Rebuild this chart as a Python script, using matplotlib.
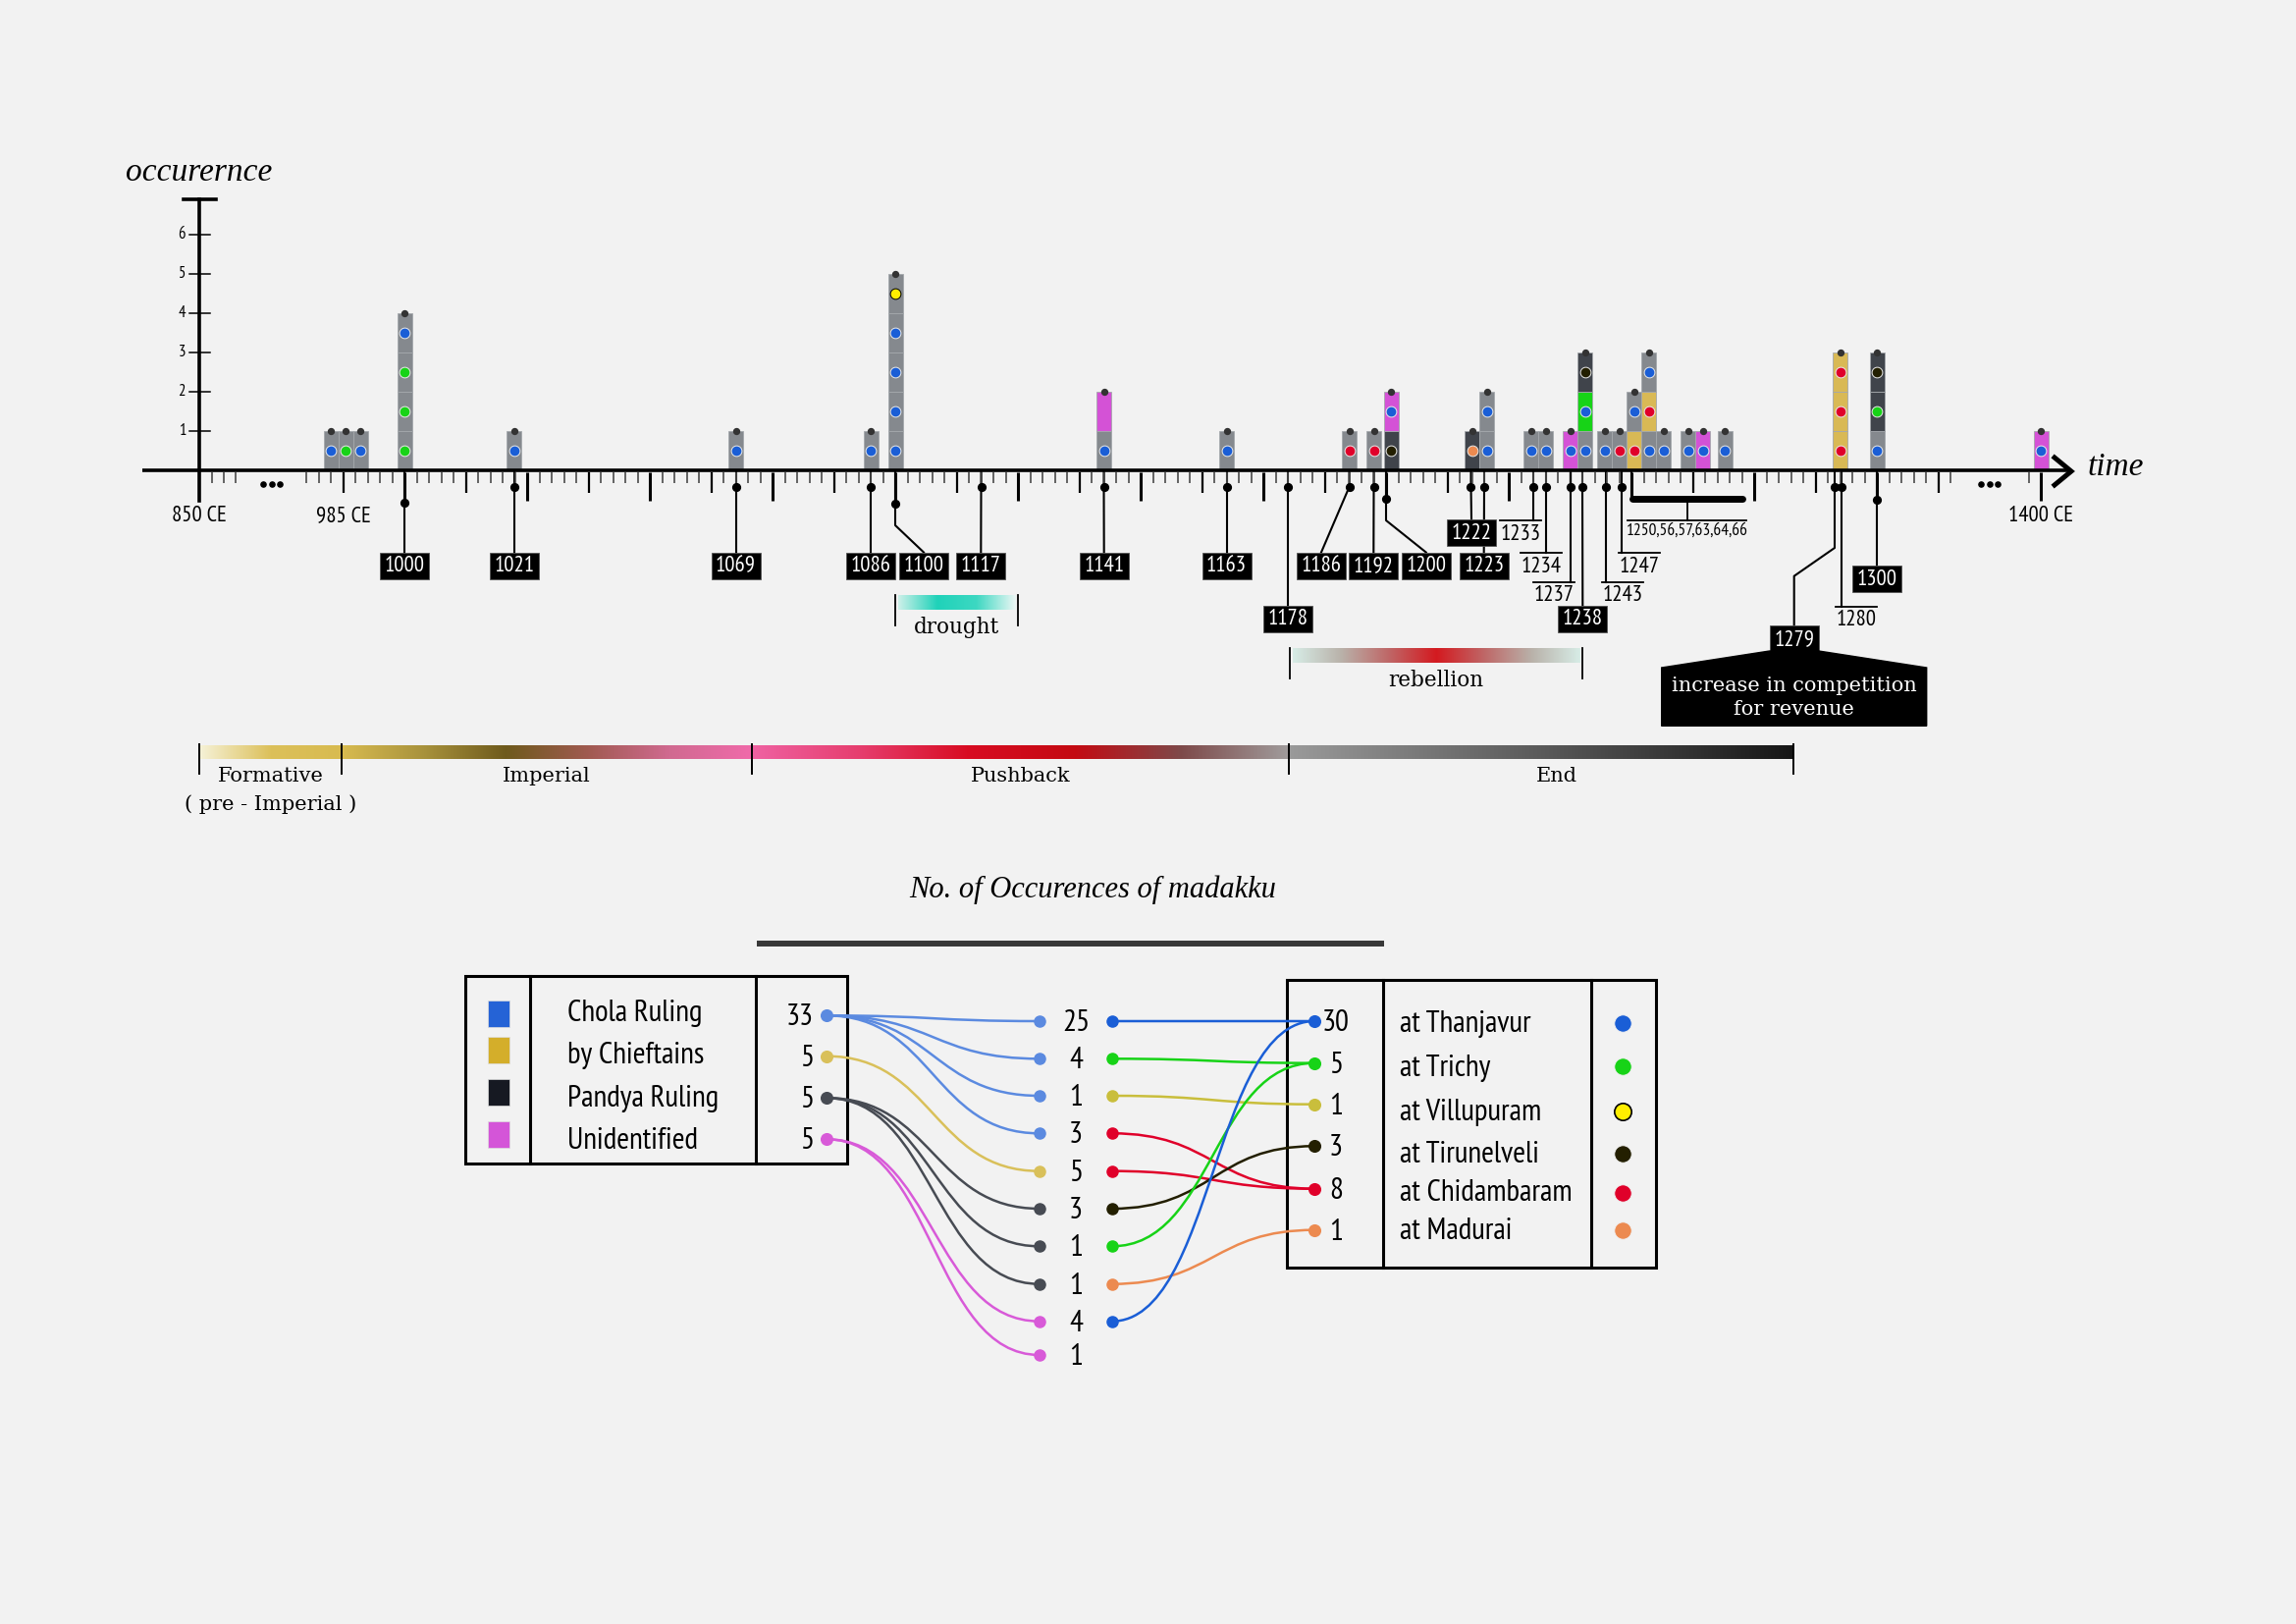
import numpy as np
import matplotlib as mpl
mpl.use('Agg')
import matplotlib.pyplot as plt
from matplotlib import font_manager as fm
from matplotlib.colors import LinearSegmentedColormap
from matplotlib.patches import Rectangle, Polygon, PathPatch
from matplotlib.path import Path
from matplotlib.textpath import TextPath
from matplotlib.transforms import blended_transform_factory

W, H = 2339, 1654
BG = '#f2f2f2'

#----------timeline data----------#
# where each bar sits on the time axis and its stack from the bottom:
# one ruler code and one place code (dot colour) per segment
bar_at = [985, 988, 991, 1000, 1022.4, 1067.5, 1095, 1100, 1142.5, 1167.5,
          1192.5, 1197.5, 1201, 1217.5, 1220.5, 1229.5, 1232.5, 1237.5, 1240.5,
          1244.5, 1247.5, 1250.5, 1253.5, 1256.5, 1261.5, 1264.5, 1269,
          1292.5, 1300, 1400]
bar_rulers = ['C', 'C', 'C', 'CCCC', 'C', 'C', 'C', 'CCCCC', 'CU', 'C',
              'C', 'C', 'PU', 'P', 'CC', 'C', 'C', 'U', 'CGP',
              'C', 'C', 'KC', 'CKC', 'C', 'C', 'U', 'C',
              'KKK', 'CPP', 'U']
bar_places = ['T', 'R', 'T', 'RRRT', 'T', 'T', 'T', 'TTTTV', 'T-', 'T',
              'D', 'D', 'NT', 'M', 'TT', 'T', 'T', 'T', 'TTN',
              'T', 'D', 'DT', 'TDT', 'T', 'T', 'T', 'T',
              'DDD', 'TRN', 'T']

callout_labels = ['1000', '1021', '1069', '1086', '1100', '1117', '1141', '1163', '1178',
                  '1186', '1192', '1200', '1222', '1223', '1233', '1234', '1237', '1238',
                  '1243', '1247', '1279', '1280', '1300']
callout_at = [1000, 1022.4, 1067.5, 1095, 1100, 1117.5, 1142.5, 1167.5, 1180,
              1192.5, 1197.5, 1200, 1217.3, 1220, 1230, 1232.5, 1237.5, 1240,
              1244.8, 1248, 1291.4, 1292.8, 1300]
group_label = '1250,56,57,63,64,66'
group_span = (1249.6, 1273.2)
note_text = 'increase in competition\nfor revenue'

event_names = ['drought', 'rebellion']
event_spans = [(1100, 1125), (1180.4, 1240)]

period_names = ['Formative', 'Imperial', 'Pushback', 'End']
period_sub = '( pre - Imperial )'
period_edges = [850, 987.2, 1070.8, 1180.2, 1283.1]

#----------network data----------#
title = 'No. of Occurences of madakku'
rulers = ['Chola Ruling', 'by Chieftains', 'Pandya Ruling', 'Unidentified']
ruler_totals = [33, 5, 5, 5]
places = ['at Thanjavur', 'at Trichy', 'at Villupuram', 'at Tirunelveli',
          'at Chidambaram', 'at Madurai']
place_totals = [30, 5, 1, 3, 8, 1]
link_ruler = [0, 0, 0, 0, 1, 2, 2, 2, 3, 3]
link_place = [0, 1, 2, 4, 4, 3, 1, 5, 0, None]
link_count = [25, 4, 1, 3, 5, 3, 1, 1, 4, 1]

#----------styles----------#
seg_color = {'C': '#85898e', 'K': '#d9b955', 'P': '#40444b', 'U': '#d452d6', 'G': '#17d317'}
place_code = 'TRVNDM'
place_dot = ['#1a5ed6', '#17d317', '#ffee00', '#231f00', '#e0002a', '#ec8a50']
place_line = ['#1a5ed6', '#17d317', '#c9be3c', '#231f00', '#e0002a', '#ec8a50']
ruler_square = ['#2563d6', '#d4ae2a', '#161922', '#d455d8']
ruler_line = ['#5b8ae0', '#d9c05a', '#474b53', '#d85ad8']

#----------fonts----------#
def regular(f):
    w = f.weight
    return f.style == 'normal' and (w == 400 or str(w).lower() in ('normal', 'regular', 'book', '400'))

def pick_narrow():
    prefs = ['Liberation Sans Narrow', 'PT Sans Narrow', 'Roboto Condensed', 'Open Sans Condensed',
             'Noto Sans Condensed', 'DejaVu Sans Condensed', 'Arial Narrow']
    fonts = [f for f in fm.fontManager.ttflist if regular(f)]
    for p in prefs:
        for f in fonts:
            if f.name == p:
                return f.fname
    for base in ['Noto Sans', 'Roboto', 'Open Sans', 'DejaVu Sans', 'Liberation Sans']:
        for f in fonts:
            fn = f.fname.lower()
            if f.name.startswith(base) and ('condensed' in fn or 'narrow' in fn or
                                            str(f.stretch) in ('condensed', 'semi-condensed')):
                if 'semi' not in fn and 'extra' not in fn:
                    return f.fname
    return fm.findfont('Liberation Sans')

NARROW_FILE = pick_narrow()
# size factor so that the label widths match the reference
_w = TextPath((0, 0), 'Chola Ruling', size=20.5,
              prop=fm.FontProperties(fname=NARROW_FILE)).get_extents().width
KN = float(np.clip(134 * 0.72 / _w, 0.7, 1.15))

def nfont(size):
    return fm.FontProperties(fname=NARROW_FILE, size=size * KN)

fig = plt.figure(figsize=(W/100, H/100), dpi=100, facecolor=BG)
lay = fig.add_axes([0, 0, 1, 1])
lay.set_facecolor(BG)
lay.set_xlim(0, W)
lay.set_ylim(H, 0)
lay.axis('off')
ax = fig.add_axes([0, 0, 1, 1])
ax.patch.set_alpha(0)
ax.axis('off')

# time axis with breaks after 860 and before 1390
yr_anchor = [809.4, 860, 975, 1320, 1390, 1452]
px_anchor = [0, 253, 287, 2012, 2029, 2339]
def fwd(v):
    return np.interp(v, yr_anchor, px_anchor)
def inv(p):
    return np.interp(p, px_anchor, yr_anchor)

ax.set_xscale('function', functions=(fwd, inv))
ax.set_xlim(yr_anchor[0], yr_anchor[-1])
ax.set_ylim((479 - H)/40, 479/40)
tb = blended_transform_factory(ax.transData, lay.transData)

def text(x, y, s, size, color='k', ha='center', z=7):
    lay.text(x, y, s, fontproperties=nfont(size), color=color, ha=ha, va='center', zorder=z)

def stext(x, y, s, size, color='k', **kw):
    lay.text(x, y, s, fontsize=size, family='DejaVu Serif', color=color, ha='center',
             va='center', zorder=7, **kw)

def itext(x, y, s, size, ha='center'):
    lay.text(x, y, s, fontsize=size, family='Liberation Serif', style='italic', color='k',
             ha=ha, va='center', zorder=7)

def gradient(x0, x1, y0, y1, stops):
    cmap = LinearSegmentedColormap.from_list('g', stops)
    lay.imshow(np.linspace(0, 1, 256)[None, :], cmap=cmap, extent=(x0, x1, y1, y0),
               aspect='auto', interpolation='bilinear', zorder=2)

#----------bars----------#
for x, rs, ps in zip(bar_at, bar_rulers, bar_places):
    for k, (r, p) in enumerate(zip(rs, ps)):
        ax.bar(x, 1, bottom=k, width=3, color=seg_color[r], edgecolor='#a4a8ac',
               linewidth=0.6, zorder=2)
        if p in place_code:
            i = place_code.index(p)
            ax.scatter(x, k + 0.5, s=60, color=place_dot[i],
                       edgecolors='k' if p == 'V' else '#e8e8e8', linewidths=0.7, zorder=4)
    ax.scatter(x, len(rs), s=18, color='#333333', zorder=5)

#----------axes----------#
ax.plot([inv(145), inv(2106)], [0, 0], color='k', lw=2.6, zorder=6, solid_capstyle='butt')
ax.plot([inv(2093), inv(2110), inv(2093)], [466, 480, 494], transform=tb, color='k', lw=3.6,
        zorder=6, solid_joinstyle='miter')
ax.plot([850, 850], [202.7, 510], transform=tb, color='k', lw=2.6, zorder=6)
ax.plot([inv(186.7), inv(220)], [202.7, 202.7], transform=tb, color='k', lw=2.6, zorder=6)
for c in range(1, 7):
    ax.plot([inv(192.7), inv(214.3)], [c, c], color='k', lw=1.1, zorder=6)
    ax.text(inv(189), c, str(c), ha='right', va='center', fontproperties=nfont(11))

ticks = np.concatenate([np.arange(852.5, 858, 2.5), np.arange(980, 1316, 2.5), [1397.5, 1400]])
major = [t for t in ticks if t % 25 == 0]
medium = [t for t in ticks if t % 12.5 == 0 and t % 25 != 0]
minor = [t for t in ticks if t % 12.5 != 0]
ax.vlines(minor, 481, 492, transform=tb, color='#4a4a4a', lw=1.2, zorder=6)
ax.vlines(medium, 481, 502, transform=tb, color='k', lw=1.6, zorder=6)
ax.vlines(major, 481, 510, transform=tb, color='k', lw=2.2, zorder=6)

for xd in ([268.3, 276.7, 285], [2018.3, 2026.7, 2035]):
    lay.scatter(xd, [492.7]*3, s=14, color='k', zorder=6)

text(203, 525.7, '850 CE', 15)
text(fwd(987.5), 525.7, '985 CE', 15)
text(fwd(1400), 525.7, '1400 CE', 15)
itext(203, 176, 'occurernce', 24)
itext(2127, 476, 'time', 24, ha='left')

#----------callouts----------#
# dot y, bend points, label kind, label x, label y (pixels)
callout_layout = [
    (512, [], 'box', 412, 576), (496, [], 'box', 524, 576), (496, [], 'box', 749.5, 576),
    (496, [], 'box', 887, 576), (512.7, [(912, 535)], 'box', 941, 576),
    (496, [], 'box', 999.3, 576), (496, [], 'box', 1124.7, 576), (496, [], 'box', 1249.5, 576),
    (496, [], 'box', 1312, 630), (496, [], 'box', 1346, 576), (496, [], 'box', 1399.3, 576),
    (508, [(1412, 530)], 'box', 1452.7, 576), (496, [], 'box', 1499, 542.7),
    (496, [], 'box', 1511.7, 576), (496, [], 'line', 1549.3, 530), (496, [], 'line', 1570, 563.3),
    (496, [], 'line', 1583, 592.7), (496, [], 'box', 1612.3, 630.5), (496, [], 'line', 1653, 592.7),
    (496, [], 'line', 1670, 563.3), (496, [(1869, 558), (1827.7, 586.7)], 'box', 1827.7, 650.7),
    (496, [], 'line', 1891, 617.7), (509, [], 'box', 1912, 589.7),
]

for lab, at, (dot_y, bends, kind, lx, ly) in zip(callout_labels, callout_at, callout_layout):
    x0 = fwd(at)
    pts = [(x0, 481), (x0, dot_y)] + bends
    pts.append((x0, ly) if kind == 'line' else (lx, ly - 13.5))
    xs, ys = zip(*pts)
    lay.plot(xs, ys, color='k', lw=1.5, zorder=4)
    lay.plot(x0, dot_y, 'o', color='k', ms=5.6, zorder=5)
    if kind == 'line':
        lay.plot([lx - 21, lx + 21], [ly, ly], color='k', lw=1.3, zorder=4)
        text(lx, ly + 14, lab, 15)
    else:
        lay.add_patch(Rectangle((lx - 25, ly - 13.5), 50, 27, fc='k', ec='#555555', lw=0.6, zorder=6))
        text(lx, ly + 0.5, lab, 15, color='white')

# note under 1279
nx = callout_layout[callout_labels.index('1279')][3]
lay.add_patch(Polygon([(nx - 25, 663), (nx - 135, 680), (nx - 135, 739.3), (nx + 135, 739.3),
                       (nx + 135, 680), (nx + 25, 663)], closed=True, fc='k', ec='k', lw=1, zorder=6))
stext(nx, 710.5, note_text, 15, color='white', linespacing=1.35)

# bracket for 1250..1266
g0, g1 = fwd(group_span[0]), fwd(group_span[1])
gm = (g0 + g1) / 2
lay.plot([g0 + 2, g0 + 2], [481, 508], color='k', lw=1.5, zorder=4)
lay.plot([g0 + 3.5, g1 - 3.5], [508, 508], color='k', lw=5, solid_capstyle='round', zorder=4)
lay.plot([gm, gm], [508, 530], color='k', lw=1.3, zorder=4)
lay.plot([g0 - 2, g1 + 1], [530, 530], color='k', lw=1.3, zorder=4)
text(gm, 541, group_label, 11.5)

#----------events----------#
event_stops = [['#cdf0e9', '#1fd2b9', '#3dd8c2', '#ecf6f4'],
               ['#d7ece6', '#b9b2aa', '#bf6767', '#d41a20', '#bf6767', '#b9b2aa', '#d7ece6']]
for name, (a, b), yc, stops in zip(event_names, event_spans, [614, 667.7], event_stops):
    x0, x1 = fwd(a), fwd(b)
    gradient(x0 + 3, x1 - 2, yc - 7.5, yc + 7.5, stops)
    for xe in (x0, x1):
        lay.plot([xe, xe], [yc - 8, yc + 23], color='k', lw=1.3, zorder=4)
    stext((x0 + x1) / 2, yc + 25, name, 15.5)

#----------periods----------#
period_stops = [['#f6f2d8', '#dcc05a', '#d8bb50'],
                ['#d8bb50', '#a8923c', '#6e5a1c', '#a05a50', '#d06a90', '#f06aaa'],
                ['#ef62a2', '#e63e6e', '#d80c22', '#c40a12', '#7e4a4a', '#a09c9c'],
                ['#9a9a9a', '#5a5a5a', '#161616']]
label_shift = [0, 0, 0, 16]
for i, name in enumerate(period_names):
    x0, x1 = fwd(period_edges[i]), fwd(period_edges[i + 1])
    gradient(x0, x1, 759, 773, period_stops[i])
    stext((x0 + x1) / 2 + label_shift[i], 791, name, 15)
stext((fwd(period_edges[0]) + fwd(period_edges[1])) / 2, 819, period_sub, 15)
for e in period_edges:
    lay.plot([fwd(e)] * 2, [758, 788], color='k', lw=1.4, zorder=4)

#----------network----------#
itext(1113, 906, title, 22)
lay.plot([771, 1410], [961, 961], color='#383838', lw=4.3, solid_capstyle='butt')

def frame(x0, x1, y0, y1, dividers):
    lay.add_patch(Rectangle((x0, y0), x1 - x0, y1 - y0, fill=False, ec='k', lw=2.2, zorder=3))
    for xd in dividers:
        lay.plot([xd, xd], [y0, y1], color='k', lw=2.2, zorder=3)

def scurve(x0, y0, x1, y1, color):
    k = 0.5 * (x1 - x0)
    p = Path([(x0, y0), (x0 + k, y0), (x1 - k, y1), (x1, y1)],
             [Path.MOVETO, Path.CURVE4, Path.CURVE4, Path.CURVE4])
    lay.add_patch(PathPatch(p, fc='none', ec=color, lw=1.8, zorder=3))

frame(474.3, 863.3, 994.3, 1185, [540.3, 770])
frame(1310.7, 1686.7, 998.3, 1290.7, [1409.3, 1620.7])

sq_y = [1032, 1069.7, 1112, 1155.3]
lt_y = [1032, 1075, 1119, 1162]
ld_y = [1034.3, 1075.7, 1118.3, 1160.3]
mid_y = [1040, 1078.3, 1116, 1154.3, 1192.7, 1231, 1269.3, 1307.7, 1345.7, 1380]
rd_y = [1040, 1082.7, 1124.7, 1167.3, 1210.7, 1252.7]
pt_y = [1042, 1086.7, 1131.7, 1175, 1214.3, 1252.7]
pd_y = [1042.3, 1086.3, 1132, 1174.7, 1214.7, 1253]

for i, name in enumerate(rulers):
    lay.add_patch(Rectangle((496.7, sq_y[i] - 13.5), 22.3, 27, fc=ruler_square[i],
                            ec='#dddddd', lw=0.5, zorder=4))
    text(577.7, lt_y[i], name, 20.5, ha='left')
    text(829, ld_y[i] + 2, str(ruler_totals[i]), 20.5, ha='right')
    lay.plot(842.3, ld_y[i], 'o', ms=8.4, color=ruler_line[i], zorder=5)

for j, (r, p, n) in enumerate(zip(link_ruler, link_place, link_count)):
    scurve(842.3, ld_y[r], 1059, mid_y[j], ruler_line[r])
    lay.plot(1059, mid_y[j], 'o', ms=8, color=ruler_line[r], zorder=5)
    text(1096, mid_y[j] + 2, str(n), 20.5)
    if p is not None:
        scurve(1132.7, mid_y[j], 1339.3, rd_y[p], place_line[p])
        lay.plot(1132.7, mid_y[j], 'o', ms=8, color=place_line[p], zorder=5)

for i, name in enumerate(places):
    lay.plot(1339.3, rd_y[i], 'o', ms=8.4, color=place_line[i], zorder=5)
    text(1361, rd_y[i] + 2, str(place_totals[i]), 20.5)
    text(1426, pt_y[i] + 1, name, 20.5, ha='left')
    lay.plot(1653.3, pd_y[i], 'o', ms=12.5, color=place_dot[i],
             mec='k' if i == 2 else '#f0f0f0', mew=1.2 if i == 2 else 0.6, zorder=5)

lay.set_xlim(0, W)
lay.set_ylim(H, 0)
fig.savefig('out.png', dpi=100, facecolor=BG)
